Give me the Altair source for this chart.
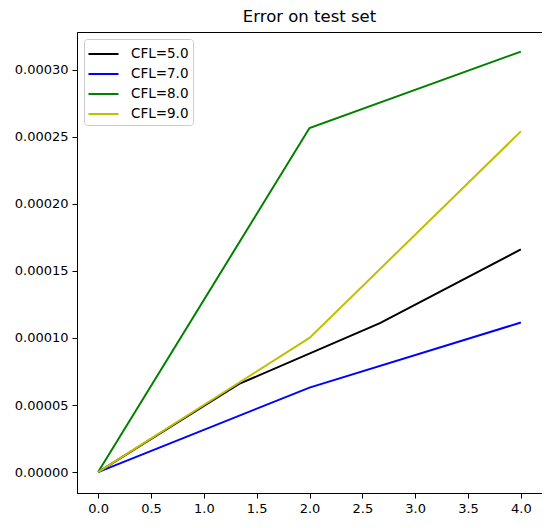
import altair as alt
import pandas as pd

# Data
labels = ["CFL=5.0", "CFL=7.0", "CFL=8.0", "CFL=9.0"]
colors = ["#000000", "#0000ff", "#008000", "#bfbf00"]

x_cfl5 = [0.0, 1.3333, 2.6667, 4.0]
y_cfl5 = [0.0, 0.0000657, 0.000111, 0.000166]

x_cfl7 = [0.0, 2.0, 4.0]
y_cfl7 = [0.0, 0.0000630, 0.0001115]

x_cfl8 = [0.0, 2.0, 4.0]
y_cfl8 = [0.0, 0.0002565, 0.0003135]

x_cfl9 = [0.0, 2.0, 4.0]
y_cfl9 = [0.0, 0.0001000, 0.0002540]

x_ticks = [0.0, 0.5, 1.0, 1.5, 2.0, 2.5, 3.0, 3.5, 4.0]
y_ticks = [0.0, 0.00005, 0.0001, 0.00015, 0.0002, 0.00025, 0.0003]

rows = []
for lab, xs, ys in zip(labels, [x_cfl5, x_cfl7, x_cfl8, x_cfl9],
                       [y_cfl5, y_cfl7, y_cfl8, y_cfl9]):
    for i, (xv, yv) in enumerate(zip(xs, ys)):
        rows.append({"series": lab, "x": xv, "y": yv, "order": i})
df = pd.DataFrame(rows)

font = "DejaVu Sans"

chart = alt.Chart(df).mark_line(strokeWidth=2).encode(
    x=alt.X("x:Q", scale=alt.Scale(domain=[-0.2, 4.2], nice=False, zero=False),
            axis=alt.Axis(values=x_ticks, format=".1f", title=None, grid=False)),
    y=alt.Y("y:Q", scale=alt.Scale(domain=[-0.0000156, 0.0003281], nice=False, zero=False),
            axis=alt.Axis(values=y_ticks, format=".5f", title=None, grid=False)),
    color=alt.Color("series:N", scale=alt.Scale(domain=labels, range=colors),
                    legend=alt.Legend(title=None, orient="top-left", offset=7,
                                      symbolType="M-1.05,0L1.95,0", symbolSize=400,
                                      symbolStrokeWidth=2, padding=4, rowPadding=2,
                                      labelOffset=21, labelFont=font, labelFontSize=13.5,
                                      labelColor="black", fillColor="white",
                                      strokeColor="#cccccc", cornerRadius=3)),
    order="order:Q",
).properties(
    width=465,
    height=461,
    autosize=alt.AutoSizeParams(type="none"),
    padding={"left": 69, "top": 24, "right": 0, "bottom": 27},
    title=alt.Title("Error on test set", font=font, fontSize=16.5, fontWeight="normal",
                    color="black", anchor="middle", offset=8, baseline="alphabetic", dy=14),
).configure_view(
    stroke="black", strokeWidth=1
).configure_axis(
    labelFont=font, labelFontSize=13, labelColor="black",
    tickColor="black", tickSize=5, tickWidth=1,
    domainColor="black", domainWidth=1, labelPadding=4,
)

chart.save("out.html", embed_options={"renderer": "svg", "actions": False})
